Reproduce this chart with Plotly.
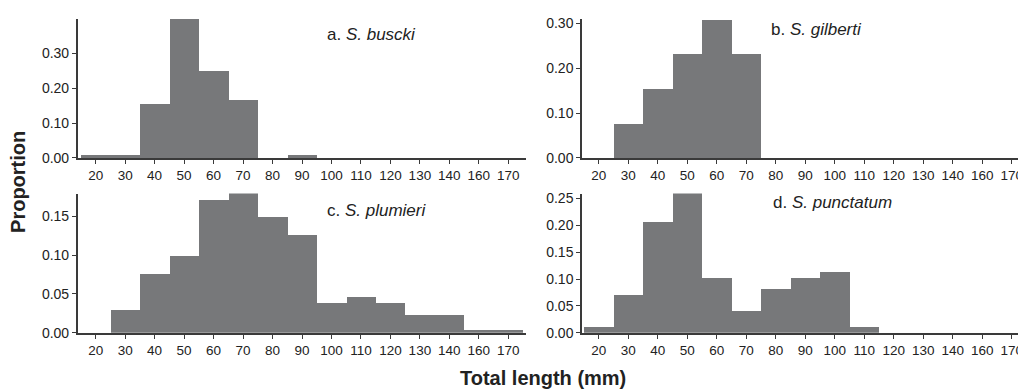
import plotly.graph_objects as go

categories = ["20", "30", "40", "50", "60", "70", "80", "90", "100", "110",
              "120", "130", "140", "160", "170"]

buscki = [0.008, 0.008, 0.157, 0.40, 0.252, 0.168, 0.0, 0.008, 0, 0, 0, 0, 0, 0, 0]
gilberti = [0.0, 0.077, 0.154, 0.231, 0.308, 0.231, 0, 0, 0, 0, 0, 0, 0, 0, 0]
plumieri = [0.0, 0.030, 0.076, 0.099, 0.171, 0.180, 0.149, 0.126, 0.039, 0.046,
            0.039, 0.023, 0.023, 0.004, 0.004]
punctatum = [0.011, 0.072, 0.207, 0.26, 0.102, 0.042, 0.083, 0.103, 0.114, 0.011,
             0, 0, 0, 0, 0]

labels = ["a. <i>S. buscki</i>", "b. <i>S. gilberti</i>",
          "c. <i>S. plumieri</i>", "d. <i>S. punctatum</i>"]

OFF = 8  # page body margin
W, H = 1026 - OFF, 392 - OFF
BAR = "#77787a"
AX = "#3a3a3a"
FONT = "Liberation Sans, Arial, Helvetica, sans-serif"


def fx(px):
    return (px - OFF) / W


def fy(py):
    return 1 - (py - OFF) / H


fig = go.Figure()
series = [buscki, gilberti, plumieri, punctatum]
for i, s in enumerate(series):
    n = "" if i == 0 else str(i + 1)
    fig.add_trace(go.Bar(x=categories, y=s, xaxis="x" + n, yaxis="y" + n,
                         marker=dict(color=BAR, line=dict(width=0)),
                         width=1.0, showlegend=False, hoverinfo="x+y"))

xdom_left = [fx(77.7), fx(526)]
xdom_right = [fx(582), 1.0]
ydom_top = [fy(159.3), fy(16)]
ydom_bot = [fy(339.3), fy(196)]

xrange_left = [-0.61, 14.6]
xrange_right = [-0.57, 14.48]

common_x = dict(type="category", categoryorder="array", categoryarray=categories,
                showline=True, linecolor=AX, linewidth=1.5, ticks="outside",
                ticklen=4, tickwidth=1, tickcolor=AX, showgrid=False,
                zeroline=False, tickfont=dict(size=13.5, color="#222", family=FONT),
                fixedrange=True)
common_y = dict(showline=True, linecolor=AX, linewidth=1.5, ticks="outside",
                ticklen=4, tickwidth=1, tickcolor=AX, showgrid=False,
                zeroline=False, tickformat=".2f",
                tickfont=dict(size=14, color="#222", family=FONT), fixedrange=True)

fig.update_layout(
    width=W, height=H,
    margin=dict(l=0, r=0, t=0, b=0),
    paper_bgcolor="white", plot_bgcolor="white",
    bargap=0, barmode="overlay",
    font=dict(family=FONT, color="#222"),
    xaxis=dict(common_x, domain=xdom_left, range=xrange_left, anchor="y"),
    yaxis=dict(common_y, domain=ydom_top, range=[0, 0.40], anchor="x",
               tickvals=[0, 0.1, 0.2, 0.3]),
    xaxis2=dict(common_x, domain=xdom_right, range=xrange_right, anchor="y2"),
    yaxis2=dict(common_y, domain=ydom_top, range=[0, 0.31], anchor="x2",
                tickvals=[0, 0.1, 0.2, 0.3]),
    xaxis3=dict(common_x, domain=xdom_left, range=xrange_left, anchor="y3"),
    yaxis3=dict(common_y, domain=ydom_bot, range=[0, 0.179], anchor="x3",
                tickvals=[0, 0.05, 0.1, 0.15]),
    xaxis4=dict(common_x, domain=xdom_right, range=xrange_right, anchor="y4"),
    yaxis4=dict(common_y, domain=ydom_bot, range=[0, 0.259], anchor="x4",
                tickvals=[0, 0.05, 0.1, 0.15, 0.2, 0.25]),
)

ann_pos = [(325, 32), (769, 27), (325, 213), (771, 205)]
for lab, (px, py) in zip(labels, ann_pos):
    fig.add_annotation(text=lab, x=fx(px), y=fy(py), xref="paper", yref="paper",
                       xanchor="left", yanchor="middle", showarrow=False,
                       font=dict(size=17, color="#222", family=FONT))

fig.add_annotation(text="<b>Proportion</b>", x=fx(18), y=fy(184), xref="paper",
                   yref="paper", textangle=-90, showarrow=False,
                   xanchor="center", yanchor="middle",
                   font=dict(size=20, color="#222", family=FONT))
fig.add_annotation(text="<b>Total length (mm)</b>", x=fx(543), y=fy(386), xref="paper",
                   yref="paper", showarrow=False, xanchor="center", yanchor="middle",
                   font=dict(size=20, color="#222", family=FONT))

fig.write_html("out.html")
